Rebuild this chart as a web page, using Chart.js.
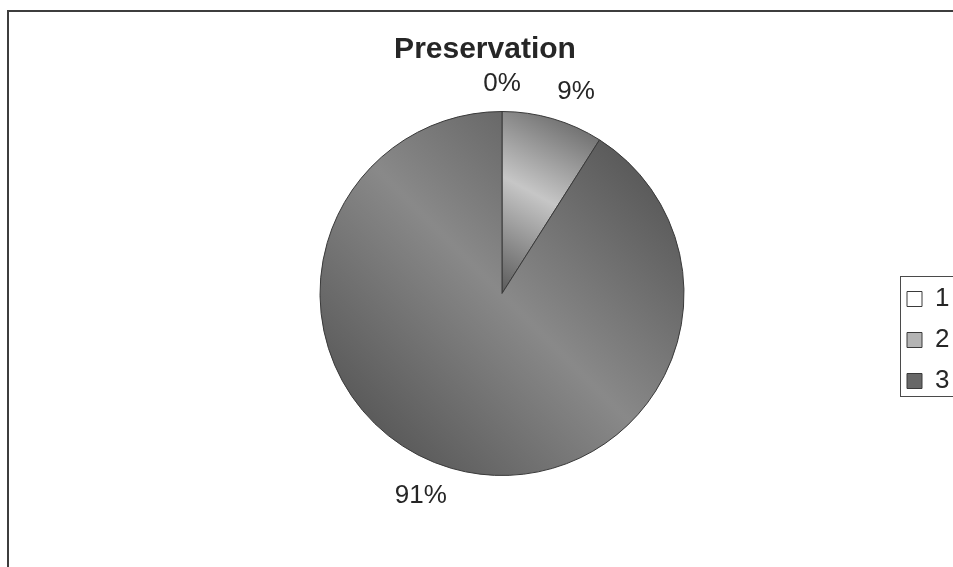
<!DOCTYPE html>
<html>
<head>
<meta charset="utf-8">
<title>Preservation</title>
<script src="https://cdn.jsdelivr.net/npm/chart.js@4.4.1/dist/chart.umd.min.js"></script>
<style>
  html, body { margin: 0; padding: 0; background: #fff; }
  #wrap { width: 953px; height: 567px; position: relative; }
</style>
</head>
<body>
<div id="wrap"><canvas id="pie-chart"></canvas></div>
<script>
const categories = ["1", "2", "3"];
const shares = [0, 9, 91];
const chartTitle = "Preservation";

// each slice is shaded dark -> light -> dark across its box, corner to corner
const sliceLight = ["#ffffff", "#c6c6c6", "#898989"];
const sliceDark = ["#ffffff", "#5a5a5a", "#484848"];
const legendFill = ["#ffffff", "#b4b4b4", "#686868"];
const fontFamily = '"Liberation Sans", Arial, sans-serif';

const total = shares.reduce((a, b) => a + b, 0);

function sliceShade(context) {
  const chart = context.chart;
  const i = context.dataIndex;
  const area = chart.chartArea;
  const meta = chart.getDatasetMeta(0);
  const r = meta.controller && meta.controller.outerRadius;
  if (!area || !r) return sliceLight[i];
  const cx = (area.left + area.right) / 2;
  const cy = (area.top + area.bottom) / 2;
  let before = 0;
  for (let k = 0; k < i; k++) before += shares[k];
  const a0 = -Math.PI / 2 + before / total * 2 * Math.PI;
  const a1 = a0 + shares[i] / total * 2 * Math.PI;
  const xs = [cx, cx + r * Math.cos(a0), cx + r * Math.cos(a1)];
  const ys = [cy, cy + r * Math.sin(a0), cy + r * Math.sin(a1)];
  for (let q = -2; q <= 4; q++) {
    const a = q * Math.PI / 2;
    if (a > a0 && a < a1) {
      xs.push(cx + r * Math.cos(a));
      ys.push(cy + r * Math.sin(a));
    }
  }
  const x0 = Math.min(...xs), x1 = Math.max(...xs);
  const y0 = Math.min(...ys), y1 = Math.max(...ys);
  const g = chart.ctx.createLinearGradient(x1, y0, x0, y1);
  g.addColorStop(0, sliceDark[i]);
  g.addColorStop(0.5, sliceLight[i]);
  g.addColorStop(1, sliceDark[i]);
  return g;
}

// outer frame, white background
const framePlugin = {
  id: 'frame',
  beforeDraw(chart) {
    const c = chart.ctx;
    c.save();
    c.fillStyle = '#fff';
    c.fillRect(0, 0, chart.width, chart.height);
    c.strokeStyle = '#3d3d3d';
    c.lineWidth = 2;
    c.strokeRect(8, 11, chart.width + 20, chart.height + 20);
    c.restore();
  },
  afterDraw(chart) {
    // box around the legend
    const c = chart.ctx;
    c.save();
    c.strokeStyle = '#4a4a4a';
    c.lineWidth = 1;
    c.strokeRect(900.5, 276.5, 80, 120);
    c.restore();
  }
};

// legend sits on the right, title slightly left of the pie centre
const placePlugin = {
  id: 'place',
  afterLayout(chart) {
    const lg = chart.legend;
    lg.left = 892;
    lg.right = chart.width + 40;
    lg.top = 269;
    lg.bottom = 411;
    lg.width = lg.right - lg.left;
    lg.height = lg.bottom - lg.top;
    const tb = chart.titleBlock;
    tb.left -= 34;
    tb.width = tb.right - tb.left;
  }
};

// percentage labels just outside each slice
const labelPlugin = {
  id: 'sliceLabels',
  afterDatasetsDraw(chart) {
    const meta = chart.getDatasetMeta(0);
    const c = chart.ctx;
    c.save();
    c.font = '26px ' + fontFamily;
    c.fillStyle = '#262626';
    c.textAlign = 'center';
    c.textBaseline = 'middle';
    meta.data.forEach((arc, i) => {
      const p = arc.getProps(['x', 'y', 'startAngle', 'endAngle', 'outerRadius'], true);
      const mid = (p.startAngle + p.endAngle) / 2;
      const text = Math.round(shares[i] / total * 100) + '%';
      const w = c.measureText(text).width;
      const h = 24;
      const dx = Math.cos(mid), dy = Math.sin(mid);
      const px = p.x + dx * (p.outerRadius + 16);
      const py = p.y + dy * (p.outerRadius + 16);
      const sx = Math.abs(dx) < 0.01 ? 0 : Math.sign(dx);
      const sy = Math.abs(dy) < 0.01 ? 0 : Math.sign(dy);
      c.fillText(text, px + sx * w / 2, py + sy * h / 2);
    });
    c.restore();
  }
};

const ctx = document.getElementById('pie-chart').getContext('2d');
const pieChart = new Chart(ctx, {
  type: 'pie',
  data: {
    labels: categories,
    datasets: [{
      data: shares,
      backgroundColor: sliceShade,
      borderColor: '#3a3a3a',
      borderWidth: 1,
      hoverOffset: 0
    }]
  },
  options: {
    responsive: true,
    maintainAspectRatio: false,
    animation: false,
    layout: { padding: { top: 32, bottom: 91, left: 51, right: 0 } },
    plugins: {
      title: {
        display: true,
        text: chartTitle,
        color: '#262626',
        font: { family: fontFamily, size: 30, weight: 'bold', lineHeight: 1.2 },
        padding: { top: 0, bottom: 43 }
      },
      legend: {
        position: 'chartArea',
        labels: {
          font: { family: fontFamily, size: 26 },
          color: '#262626',
          boxWidth: 15,
          boxHeight: 15,
          padding: 15,
          generateLabels: chart => chart.data.labels.map((t, i) => ({
            text: t,
            fillStyle: legendFill[i],
            strokeStyle: '#3a3a3a',
            lineWidth: 1,
            fontColor: '#262626',
            hidden: false,
            index: i
          }))
        }
      },
      tooltip: { enabled: false }
    }
  },
  plugins: [framePlugin, placePlugin, labelPlugin]
});
</script>
</body>
</html>
